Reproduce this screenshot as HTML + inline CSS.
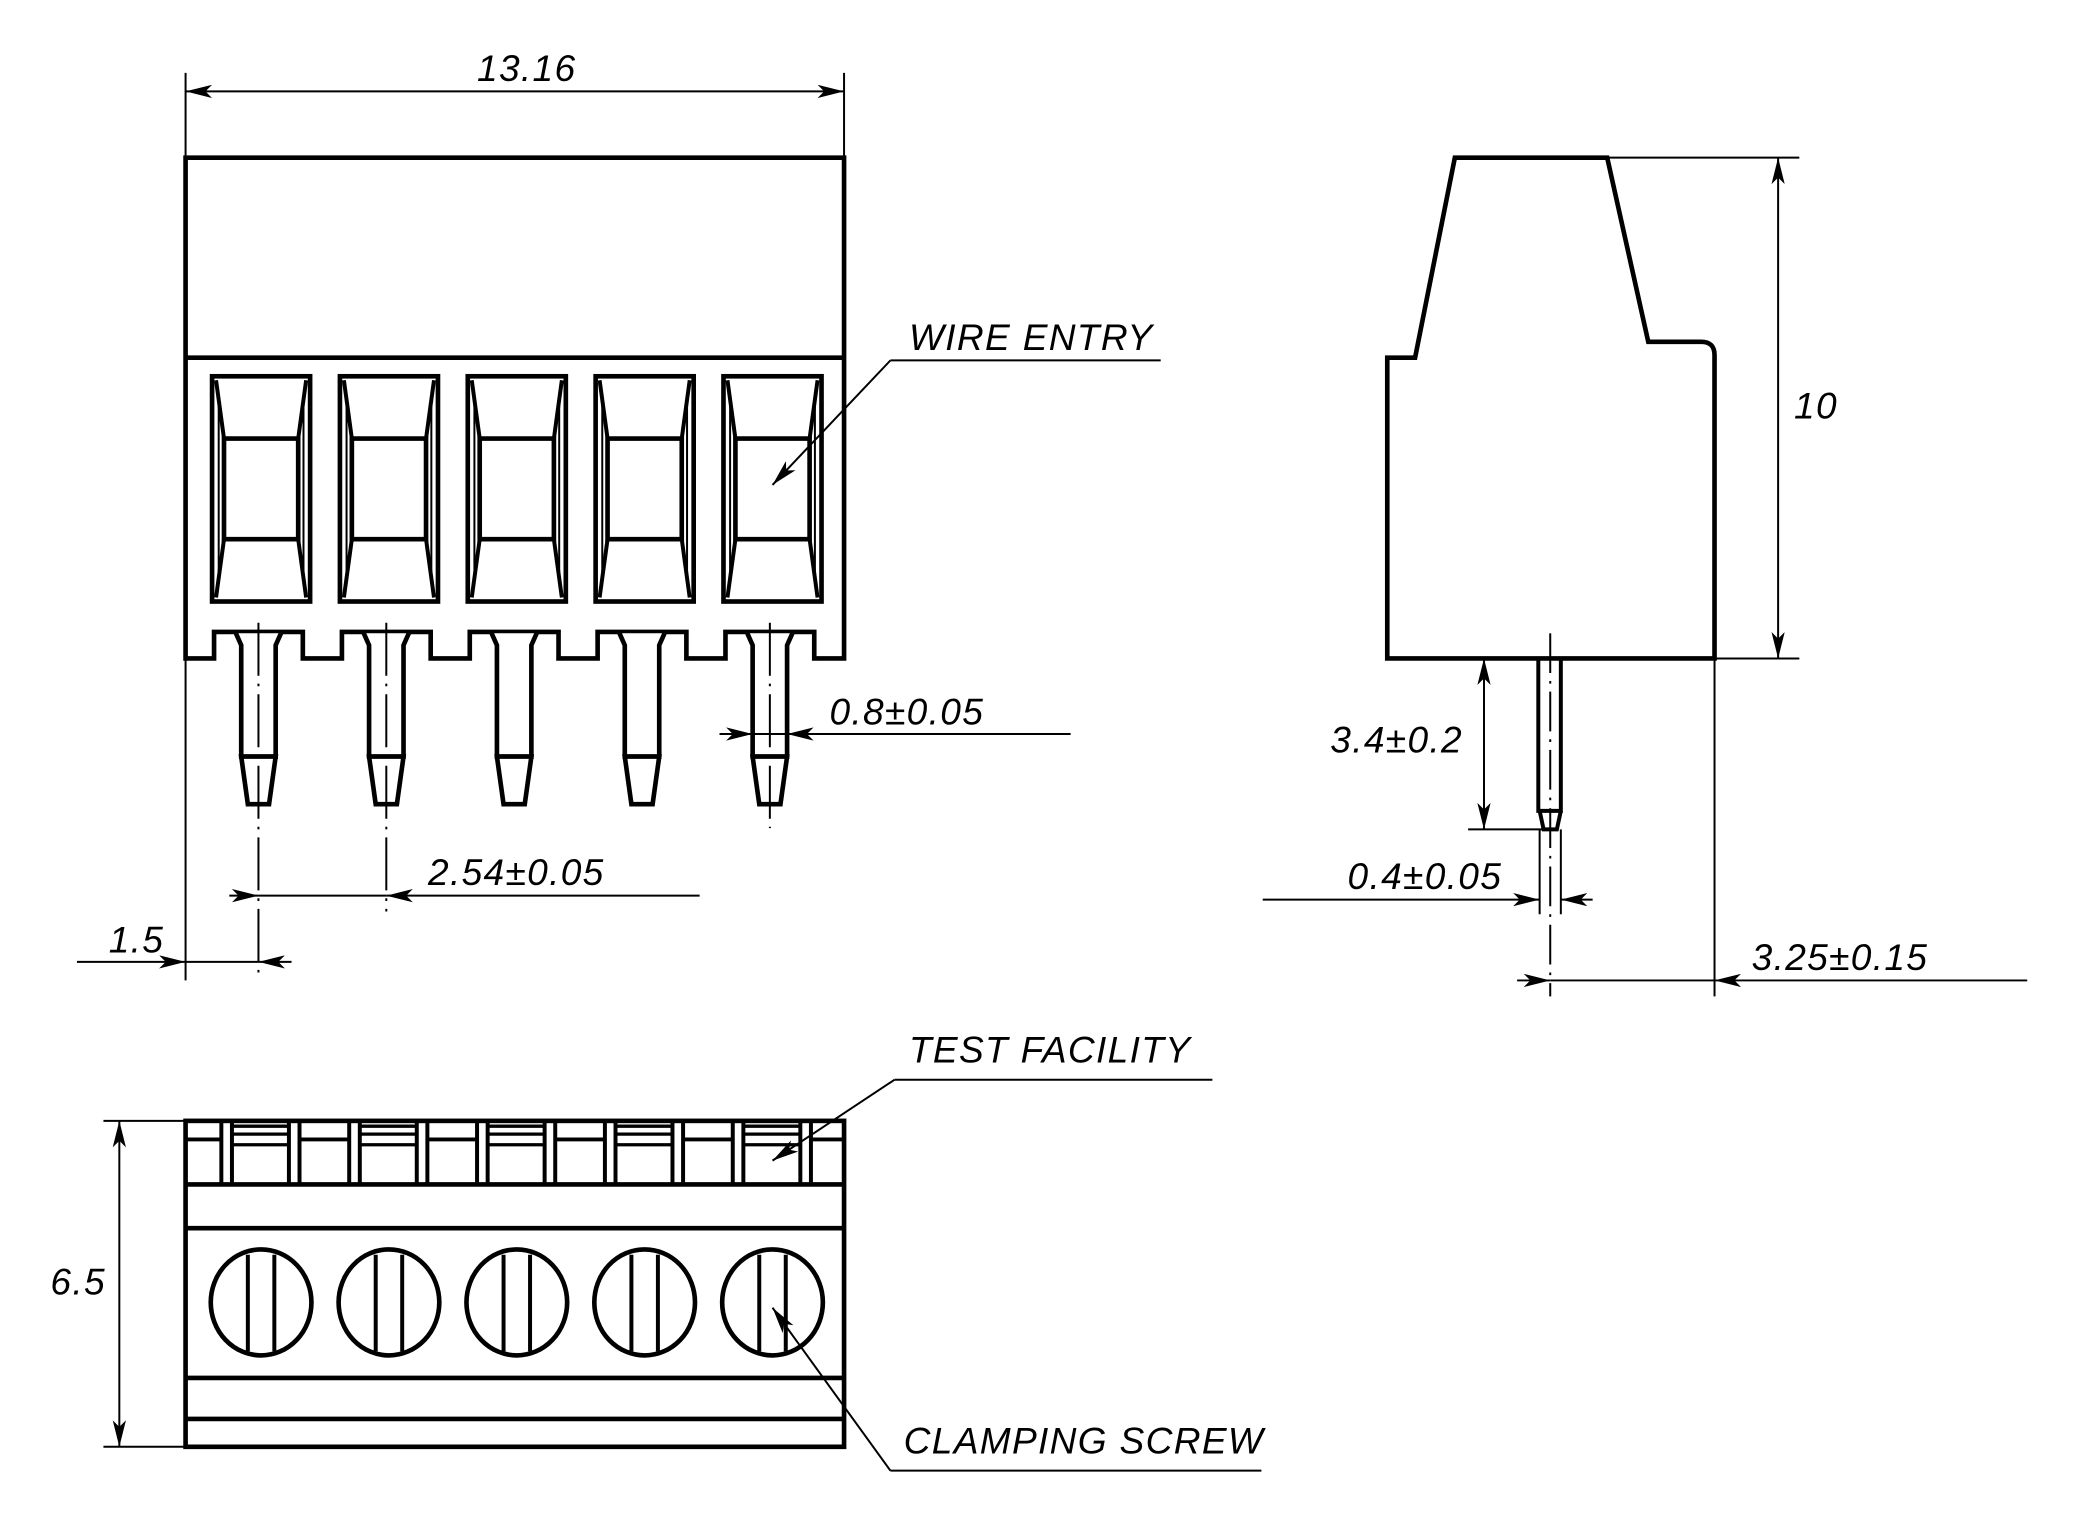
<!DOCTYPE html>
<html><head><meta charset="utf-8"><style>
html,body{margin:0;padding:0;background:#fff;}
svg{display:block;}
text{font-family:"Liberation Sans",sans-serif;font-style:italic;font-size:28px;fill:#000;letter-spacing:1px;}
</style></head><body>
<svg width="2073" height="1521" viewBox="0 0 1564.5 1148" xmlns="http://www.w3.org/2000/svg">
<defs>
<marker id="ar" viewBox="0 0 20 10" refX="20" refY="5" markerWidth="20" markerHeight="10" markerUnits="userSpaceOnUse" orient="auto-start-reverse">
<path d="M0,0 L20,5 L0,10 L5,5 Z" fill="#000"/>
</marker>
<g id="cav" fill="none" stroke="#000" stroke-width="3.5">
<rect x="-37" y="284" width="74" height="170"/>
<path d="M-28,331 H28 V407 H-28 Z"/>
<path d="M-34,287 L-28,331 M34,287 L28,331 M-34,451 L-28,407 M34,451 L28,407" stroke-width="3"/>
<path d="M-32,300 V440 M32,300 V440" stroke-width="1.5"/>
</g>
<g id="pin" fill="#fff" stroke="#000" stroke-width="3.5">
<path d="M-17,478 L-13,487 V571 H13 V487 L17,478"/>
<path d="M-13,571 L-8,607 H8 L13,571 Z"/>
</g>
<g id="slot" fill="none" stroke="#000">
<path d="M-30,847 V894 M-22,847 V894 M21,847 V894 M29,847 V894" stroke-width="3"/>
<path d="M-22,850 H21 M-22,856 H21 M-22,864 H21" stroke-width="2.5"/>
</g>
<g id="screw" fill="none" stroke="#000" stroke-width="3.5">
<ellipse cx="0" cy="983" rx="38" ry="40"/>
<path d="M-10,947 V1020 M10,947 V1020" stroke-width="3"/>
</g>
</defs>

<!-- FRONT VIEW -->
<path d="M140,119 H637 V497 H614.5 V477 H547.5 V497 H518 V477 H451 V497 H421.5 V477 H354.5 V497 H325 V477 H258 V497 H228.5 V477 H161.5 V497 H140 Z" fill="none" stroke="#000" stroke-width="3.5"/>
<line x1="140" y1="270" x2="637" y2="270" stroke="#000" stroke-width="3.5"/>
<use href="#cav" x="197"/><use href="#cav" x="293.5"/><use href="#cav" x="390"/><use href="#cav" x="486.5"/><use href="#cav" x="583"/>
<use href="#pin" x="195"/><use href="#pin" x="291.5"/><use href="#pin" x="388"/><use href="#pin" x="484.5"/><use href="#pin" x="581"/>
<g stroke="#000" stroke-width="1.5" fill="none">
<path d="M195,470 V738" stroke-dasharray="40,6,2,6"/>
<path d="M291.5,470 V688" stroke-dasharray="40,6,2,6"/>
<path d="M581,470 V625" stroke-dasharray="40,6,2,6"/>
<path d="M140,55 V119 M637,55 V119"/>
<path d="M140,497 V740"/>
<line x1="140" y1="69" x2="637" y2="69" marker-start="url(#ar)" marker-end="url(#ar)"/>
<line x1="58" y1="726" x2="140" y2="726" marker-end="url(#ar)"/>
<line x1="140" y1="726" x2="195" y2="726"/>
<line x1="220" y1="726" x2="195" y2="726" marker-end="url(#ar)"/>
<line x1="173" y1="676" x2="195" y2="676" marker-end="url(#ar)"/>
<line x1="195" y1="676" x2="291.5" y2="676"/>
<line x1="528" y1="676" x2="291.5" y2="676" marker-end="url(#ar)"/>
<line x1="543" y1="554" x2="568" y2="554" marker-end="url(#ar)"/>
<line x1="568" y1="554" x2="594" y2="554"/>
<line x1="808" y1="554" x2="594" y2="554" marker-end="url(#ar)"/>
<path d="M876,272 H672"/>
<line x1="672" y1="272" x2="583" y2="366" marker-end="url(#ar)"/>
</g>
<text x="360" y="61">13.16</text>
<text x="686" y="264">WIRE ENTRY</text>
<text x="626" y="547">0.8±0.05</text>
<text x="323" y="668">2.54±0.05</text>
<text x="82" y="719">1.5</text>

<!-- SIDE VIEW -->
<path d="M1098,119 H1213 L1244,258 H1284 Q1294,258 1294,268 V497 H1047 V270 H1068 Z" fill="none" stroke="#000" stroke-width="3.5"/>
<path d="M1161,497 V612 H1178 V497" fill="none" stroke="#000" stroke-width="3"/>
<path d="M1162,612 L1165,626 H1175 L1178,612" fill="none" stroke="#000" stroke-width="3"/>
<g stroke="#000" stroke-width="1.5" fill="none">
<path d="M1170,478 V752" stroke-dasharray="30,6,2,6"/>
<path d="M1213,119 H1358 M1294,497 H1358"/>
<line x1="1342" y1="119" x2="1342" y2="497" marker-start="url(#ar)" marker-end="url(#ar)"/>
<line x1="1120" y1="497" x2="1120" y2="626" marker-start="url(#ar)" marker-end="url(#ar)"/>
<path d="M1108,626 H1168"/>
<path d="M1162,626 V690 M1178,626 V690"/>
<line x1="953" y1="679" x2="1162" y2="679" marker-end="url(#ar)"/>
<line x1="1202" y1="679" x2="1178" y2="679" marker-end="url(#ar)"/>
<path d="M1294,497 V752"/>
<line x1="1145" y1="740" x2="1170" y2="740" marker-end="url(#ar)"/>
<line x1="1170" y1="740" x2="1294" y2="740"/>
<line x1="1530" y1="740" x2="1294" y2="740" marker-end="url(#ar)"/>
</g>
<text x="1354" y="316">10</text>
<text x="1004" y="568">3.4±0.2</text>
<text x="1017" y="671">0.4±0.05</text>
<text x="1322" y="732">3.25±0.15</text>

<!-- BOTTOM VIEW -->
<rect x="140" y="846" width="497" height="246" fill="none" stroke="#000" stroke-width="3.5"/>
<g stroke="#000" stroke-width="3.5">
<path d="M140,894 H637 M140,927 H637 M140,1040 H637 M140,1071 H637"/>
<path d="M140,860 H167 M226,860 H263.5 M322.5,860 H360 M419,860 H456.5 M515.5,860 H553 M612,860 H637" stroke-width="3"/>
</g>
<use href="#slot" x="197"/><use href="#slot" x="293.5"/><use href="#slot" x="390"/><use href="#slot" x="486.5"/><use href="#slot" x="583"/>
<use href="#screw" x="197"/><use href="#screw" x="293.5"/><use href="#screw" x="390"/><use href="#screw" x="486.5"/><use href="#screw" x="583"/>
<g stroke="#000" stroke-width="1.5" fill="none">
<path d="M78,846 H140 M78,1092 H140"/>
<line x1="90" y1="846" x2="90" y2="1092" marker-start="url(#ar)" marker-end="url(#ar)"/>
<path d="M915,815 H675"/>
<line x1="675" y1="815" x2="583" y2="876" marker-end="url(#ar)"/>
<path d="M952,1110 H672"/>
<line x1="672" y1="1110" x2="583" y2="987" marker-end="url(#ar)"/>
</g>
<text x="38" y="977">6.5</text>
<text x="686" y="802">TEST FACILITY</text>
<text x="682" y="1097">CLAMPING SCREW</text>
</svg>
</body></html>
